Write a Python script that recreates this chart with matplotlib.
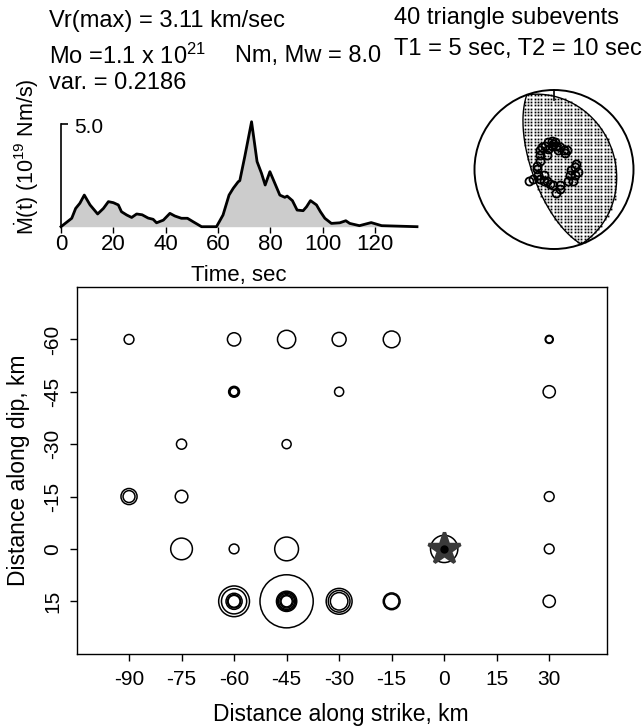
import numpy as np
import matplotlib
matplotlib.use('Agg')
import matplotlib.pyplot as plt
from matplotlib.patches import Circle
from matplotlib.path import Path

plt.rcParams['font.family'] = ['Liberation Sans', 'DejaVu Sans']
plt.rcParams['mathtext.fontset'] = 'custom'
plt.rcParams['mathtext.rm'] = 'Liberation Sans'
plt.rcParams['mathtext.it'] = 'Liberation Sans'
plt.rcParams['axes.linewidth'] = 1.0

# moment rate function (10^19 Nm/s)
stf_t = [0, 4.1, 5.6, 7.2, 8.9, 11.1, 14.0, 16.2, 18.1, 20.0, 21.9, 23.1, 25.1, 27.0,
         28.9, 31.0, 33.3, 35.2, 36.5, 39.1, 41.6, 43.5, 46.0, 48.3, 50.5, 53.7, 59.4,
         61.9, 64.2, 65.8, 67.7, 68.3, 70.2, 72.8, 74.9, 76.6, 78.0, 79.8, 81.7, 83.6,
         85.5, 86.4, 88.4, 90.2, 92.5, 93.8, 95.3, 97.6, 99.1, 100.8, 103.3, 106.5,
         108.8, 110.3, 114.0, 118.5, 122.5, 136.0]
stf_v = [0, 0.41, 0.89, 1.14, 1.54, 1.06, 0.62, 0.89, 1.22, 1.17, 1.06, 0.73, 0.57, 0.45,
         0.62, 0.58, 0.42, 0.36, 0.19, 0.32, 0.65, 0.52, 0.41, 0.41, 0.24, 0, 0,
         0.57, 1.54, 1.87, 2.19, 2.24, 3.41, 5.11, 3.17, 2.60, 2.03, 2.68, 2.11, 1.54,
         1.43, 1.49, 1.27, 0.81, 0.78, 0.97, 1.27, 1.06, 0.73, 0.41, 0.16, 0.19,
         0.29, 0.16, 0.05, 0.20, 0.05, 0.0]
stf_ticks = [0, 20, 40, 60, 80, 100, 120]

# subevents on the fault plane (km) and circle radius (km)
sub_x = [-90, -60, -45, -30, -15, 30, 30,
         -60, -60, -60, -30, 30,
         -75, -45,
         -90, -90, -75, 30,
         -75, -60, -45, 30,
         -60, -60, -60, -60, -60,
         -45, -45, -45, -45, -45, -45,
         -30, -30, -30, -15, -15, 30]
sub_y = [-60, -60, -60, -60, -60, -60, -60,
         -45, -45, -45, -45, -45,
         -30, -30,
         -15, -15, -15, -15,
         0, 0, 0, 0,
         15, 15, 15, 15, 15,
         15, 15, 15, 15, 15, 15,
         15, 15, 15, 15, 15, 15]
sub_r = [1.4, 1.9, 2.6, 2.0, 2.4, 1.15, 1.0,
         1.55, 1.35, 1.15, 1.3, 1.75,
         1.45, 1.3,
         2.3, 1.7, 1.8, 1.4,
         3.1, 1.4, 3.4, 1.4,
         4.4, 3.6, 2.3, 1.9, 1.7,
         7.6, 2.9, 2.6, 2.3, 1.9, 1.6,
         3.7, 3.1, 2.5, 2.4, 2.1, 1.75]
epi_x, epi_y, epi_r = 0, 0, 3.9

x_ticks = [-90, -75, -60, -45, -30, -15, 0, 15, 30]
y_ticks = [-60, -45, -30, -15, 0, 15]

# focal mechanism (strike, dip) of the two nodal planes
plane1 = (160, 68)
plane2 = (340, 24)
# projected axes of the subevents (unit sphere coordinates)
bb_px = [-0.03, -0.07, 0.01, -0.11, -0.15, -0.17, 0.07, 0.12, 0.05, 0.16, -0.09,
         -0.17, 0.28, 0.26, -0.20, -0.22, 0.30, 0.26, 0.20, -0.32, -0.17, -0.13,
         -0.05, -0.01, 0.07, 0.03, 0.18, 0.24, -0.22, -0.03, -0.07, 0.03, -0.13,
         0.22, 0.07, -0.26, -0.01, 0.14, -0.17, -0.09]
bb_py = [0.36, 0.34, 0.35, 0.30, 0.28, 0.24, 0.28, 0.24, 0.24, 0.24, 0.18,
         0.11, 0.07, 0.03, -0.07, 0.01, -0.03, -0.07, -0.07, -0.14, -0.12, -0.14,
         -0.18, -0.20, -0.20, -0.30, -0.14, -0.14, 0.05, 0.30, 0.26, 0.30, -0.07,
         -0.01, -0.24, -0.12, 0.32, 0.21, 0.18, -0.14]

W, H = 643, 727
fig = plt.figure(figsize=(W / 100, H / 100), dpi=100)


def fx(px):
    return px / W


def fy(py):
    return 1 - py / H


# ---- moment rate panel ----
ax1 = fig.add_axes([fx(61), fy(226.7), fx(417) - fx(61), fy(119.9) - fy(226.7)])
ax1.fill_between(stf_t, stf_v, 0, color='#cccccc', lw=0)
ax1.plot(stf_t, stf_v, color='black', lw=2.0, solid_joinstyle='round', clip_on=False)
ax1.set_xlim(0, 136)
ax1.set_ylim(0, 5.2)
for s in ['top', 'right', 'bottom']:
    ax1.spines[s].set_visible(False)
ax1.spines['left'].set_bounds(0, 5.0)
ax1.spines['left'].set_linewidth(1.2)
ax1.set_yticks([5.0])
ax1.set_yticklabels([])
ax1.tick_params(axis='y', direction='in', length=5, width=1.2)
ax1.text(5.0, 4.85, '5.0', fontsize=15, va='center', ha='left')
ax1.set_xticks(stf_ticks)
ax1.set_xticklabels([str(t) for t in stf_ticks], fontsize=16)
ax1.tick_params(axis='x', direction='out', length=4, width=1, pad=1)

fig.text(fx(239), fy(275), 'Time, sec', fontsize=16, ha='center', va='center')
fig.text(fx(27), fy(157), r'$\dot{\mathrm{M}}$(t) (10$^{19}$ Nm/s)', rotation=90,
         fontsize=15.5, ha='center', va='center')

# ---- header text ----
hs = 17
fig.text(fx(49), fy(21), 'Vr(max) = 3.11 km/sec', fontsize=hs, va='center')
fig.text(fx(49), fy(56), 'Mo =1.1 x 10$^{21}$', fontsize=hs, va='center')
fig.text(fx(235), fy(56), 'Nm, Mw = 8.0', fontsize=hs, va='center')
fig.text(fx(49), fy(83), 'var. = 0.2186', fontsize=hs, va='center')
fig.text(fx(394), fy(18), '40 triangle subevents', fontsize=hs, va='center')
fig.text(fx(394), fy(49), 'T1 = 5 sec, T2 = 10 sec', fontsize=hs, va='center')

# ---- beachball ----
bc_x, bc_y, bc_r = 554, 169.5, 79.5
ax3 = fig.add_axes([fx(bc_x - 1.05 * bc_r), fy(bc_y + 1.05 * bc_r),
                    2.1 * bc_r / W, 2.1 * bc_r / H])
ax3.set_xlim(-1.05, 1.05)
ax3.set_ylim(-1.05, 1.05)
ax3.axis('off')


def great_circle(strike, dip, n=181):
    a = np.radians(np.linspace(0, 180, n))
    s = np.radians(strike)
    d = np.radians(dip)
    vn = np.cos(a) * np.cos(s) + np.sin(a) * np.cos(d) * np.cos(s + np.pi / 2)
    ve = np.cos(a) * np.sin(s) + np.sin(a) * np.cos(d) * np.sin(s + np.pi / 2)
    vz = np.sin(a) * np.sin(d)
    plunge = np.arcsin(np.clip(vz, -1, 1))
    trend = np.arctan2(ve, vn)
    r = np.sqrt(2) * np.sin((np.pi / 2 - plunge) / 2)
    return r * np.sin(trend), r * np.cos(trend)


x1, y1 = great_circle(*plane1)
x2, y2 = great_circle(*plane2)
lens = np.column_stack([np.concatenate([x1, x2]), np.concatenate([y1, y2])])
lens_path = Path(lens)
g = np.arange(-1, 1.001, 0.042)
gx, gy = np.meshgrid(g, g)
pts = np.column_stack([gx.ravel(), gy.ravel()])
inside = lens_path.contains_points(pts, radius=-0.02)
ax3.plot(pts[inside, 0], pts[inside, 1], 's', ms=1.3, color='black', mew=0)
ax3.plot(x1, y1, color='black', lw=1.0)
ax3.plot(x2, y2, color='black', lw=1.0)
ax3.add_patch(Circle((0, 0), 1, fill=False, lw=1.4, color='black'))
ax3.plot([0, 0], [1, 0.875], color='black', lw=1.2)
ax3.plot(bb_px, bb_py, 'o', ms=5.8, mfc='none', mec='black', mew=1.3)

# ---- fault plane ----
ax2 = fig.add_axes([fx(76.5), fy(653.7), fx(607) - fx(76.5), fy(287) - fy(653.7)])
ax2.set_xlim(-105, 46.5)
ax2.set_ylim(30, -75)
for xs, ys, rs in zip(sub_x, sub_y, sub_r):
    ax2.add_patch(Circle((xs, ys), rs, fill=False, lw=1.1, color='black'))
ax2.plot(epi_x, epi_y, marker='*', ms=24, mfc='#3a3a3a', mec='#3a3a3a', mew=2.5)
ax2.add_patch(Circle((epi_x, epi_y), epi_r, fill=False, lw=1.1, color='black'))
ax2.plot(epi_x, epi_y, 'o', ms=5, color='black')
ax2.set_xticks(x_ticks)
ax2.set_xticklabels([str(v) for v in x_ticks], fontsize=15)
ax2.set_yticks(y_ticks)
ax2.set_yticklabels([str(v) for v in y_ticks], fontsize=15, rotation=90, va='center')
ax2.tick_params(direction='out', length=5, width=1)
ax2.tick_params(axis='x', pad=7)
ax2.tick_params(axis='y', pad=5)
fig.text(fx(341), fy(715), 'Distance along strike, km', fontsize=16.5,
         ha='center', va='center')
fig.text(fx(19), fy(470), 'Distance along dip, km', fontsize=16.5, rotation=90,
         ha='center', va='center')

fig.savefig('out.png', dpi=100)
